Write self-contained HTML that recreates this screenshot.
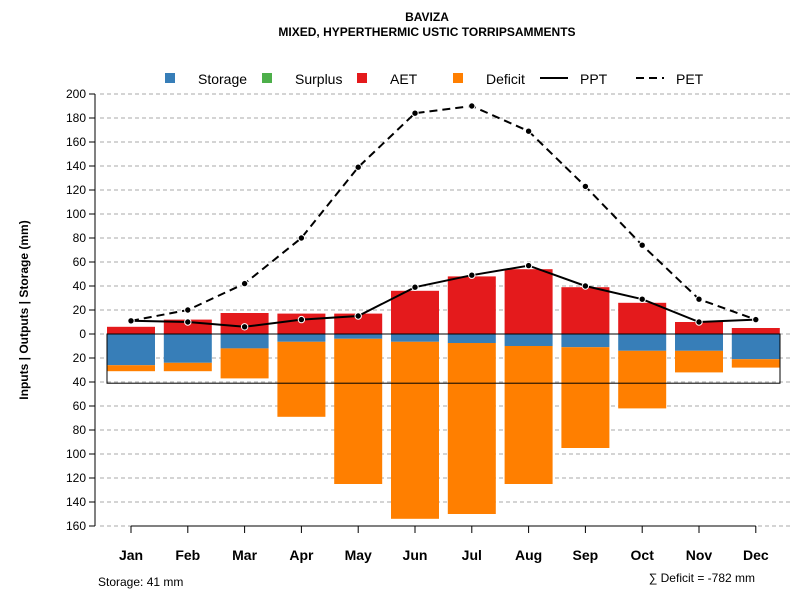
<!DOCTYPE html>
<html><head><meta charset="utf-8"><style>
body{margin:0;background:#fff;font-family:"Liberation Sans",sans-serif}
svg text{font-family:"Liberation Sans",sans-serif}
</style></head><body>
<svg id="c" width="800" height="600"></svg>
<script>
const months=["Jan","Feb","Mar","Apr","May","Jun","Jul","Aug","Sep","Oct","Nov","Dec"];
const aet=[6,12,17.5,17,17,36,48,54,39,26,10,5];
const storage=[26,24,12,6.5,4,6.5,7.5,10,11,14,14,21];
const deficitTotal=[31,31,37,69,125,154,150,125,95,62,32,28];
const ppt=[11,10,6,12,15,39,49,57,40,29,10,12];
const pet=[11,20,42,80,139,184,190,169,123,74,29,12];
const yTicks=[200,180,160,140,120,100,80,60,40,20,0,-20,-40,-60,-80,-100,-120,-140,-160];
const storageCap=41;
const ns="http://www.w3.org/2000/svg";
const svg=document.getElementById('c');
function y(v){return 334-v*1.2;}
function x(i){return 131+i*56.8;}
function el(t,a,p){const e=document.createElementNS(ns,t);for(const k in a)e.setAttribute(k,a[k]);(p||svg).appendChild(e);return e;}
function txt(s,a){const e=el('text',a);e.textContent=s;return e;}
let g;
// title
g=txt("BAVIZA",{x:427,y:21,'text-anchor':'middle','font-size':12,'font-weight':'bold'});


g=txt("MIXED, HYPERTHERMIC USTIC TORRIPSAMMENTS",{x:427,y:36,'text-anchor':'middle','font-size':12,'font-weight':'bold'});


// grid + y ticks
yTicks.forEach(v=>{
 const yy=y(v);
 const gl=el('line',{x1:100,x2:790,y1:yy,y2:yy,stroke:'#aaa','stroke-dasharray':'4,3','stroke-width':1});
 
 
 el('line',{x1:89,x2:95,y1:yy,y2:yy,stroke:'#000'});
 const t=txt(String(Math.abs(v)),{x:86,y:yy+4,'text-anchor':'end','font-size':12});
 
 
});
el('line',{x1:95,x2:95,y1:y(200),y2:y(-160),stroke:'#000'});
g=txt("Inputs | Outputs | Storage    (mm)",{x:0,y:0,'text-anchor':'middle','font-size':12,'font-weight':'bold',transform:'translate(28,310) rotate(-90)'});


// bars
months.forEach((m,i)=>{
 const cx=x(i),w=48;
 let r=el('rect',{x:cx-w/2,y:y(aet[i]),width:w,height:y(0)-y(aet[i]),fill:'#e41a1c'});
 
 
 r=el('rect',{x:cx-w/2,y:y(0),width:w,height:y(-storage[i])-y(0),fill:'#377eb8'});
 
 
 r=el('rect',{x:cx-w/2,y:y(-storage[i]),width:w,height:y(-deficitTotal[i])-y(-storage[i]),fill:'#ff7f00'});
 
 
 el('line',{x1:cx,x2:cx,y1:526,y2:533,stroke:'#000'});
 const t=txt(m,{x:cx,y:560,'text-anchor':'middle','font-size':14,'font-weight':'bold'});
 
 
});
el('line',{x1:x(0),x2:x(11),y1:526,y2:526,stroke:'#000'});
g=el('rect',{x:107,y:y(0),width:673,height:y(-storageCap)-y(0),fill:'none',stroke:'#000','stroke-width':1});


// lines
function line(arr,dash,name){
 const p=el('polyline',{points:arr.map((v,i)=>x(i)+','+y(v)).join(' '),fill:'none',stroke:'#000','stroke-width':2,'stroke-dasharray':dash});
 
 
 arr.forEach((v,i)=>{const c=el('circle',{cx:x(i),cy:y(v),r:3.2,fill:'#000',stroke:'#fff','stroke-width':1});
 
 });
}
line(pet,'8,5','pet');
line(ppt,'none','ppt');
// legend
const leg=[["Storage","#377eb8",165],["Surplus","#4daf4a",262],["AET","#e41a1c",357]];
leg.forEach(l=>{el('rect',{x:l[2],y:73,width:10,height:10,fill:l[1]});
 const t=txt(l[0],{x:l[2]+33,y:84,'font-size':14});
 
 });
el('rect',{x:453,y:73,width:10,height:10,fill:'#ff7f00'});
g=txt("Deficit",{x:486,y:84,'font-size':14});


el('line',{x1:540,x2:568,y1:78,y2:78,stroke:'#000','stroke-width':2});
g=txt("PPT",{x:580,y:84,'font-size':14});


el('line',{x1:636,x2:664,y1:78,y2:78,stroke:'#000','stroke-width':2,'stroke-dasharray':'8,5'});
g=txt("PET",{x:676,y:84,'font-size':14});


g=txt("Storage: 41 mm",{x:98,y:586,'font-size':12});


g=txt("∑ Deficit = -782 mm",{x:755,y:582,'text-anchor':'end','font-size':12});


</script>
</body></html>
